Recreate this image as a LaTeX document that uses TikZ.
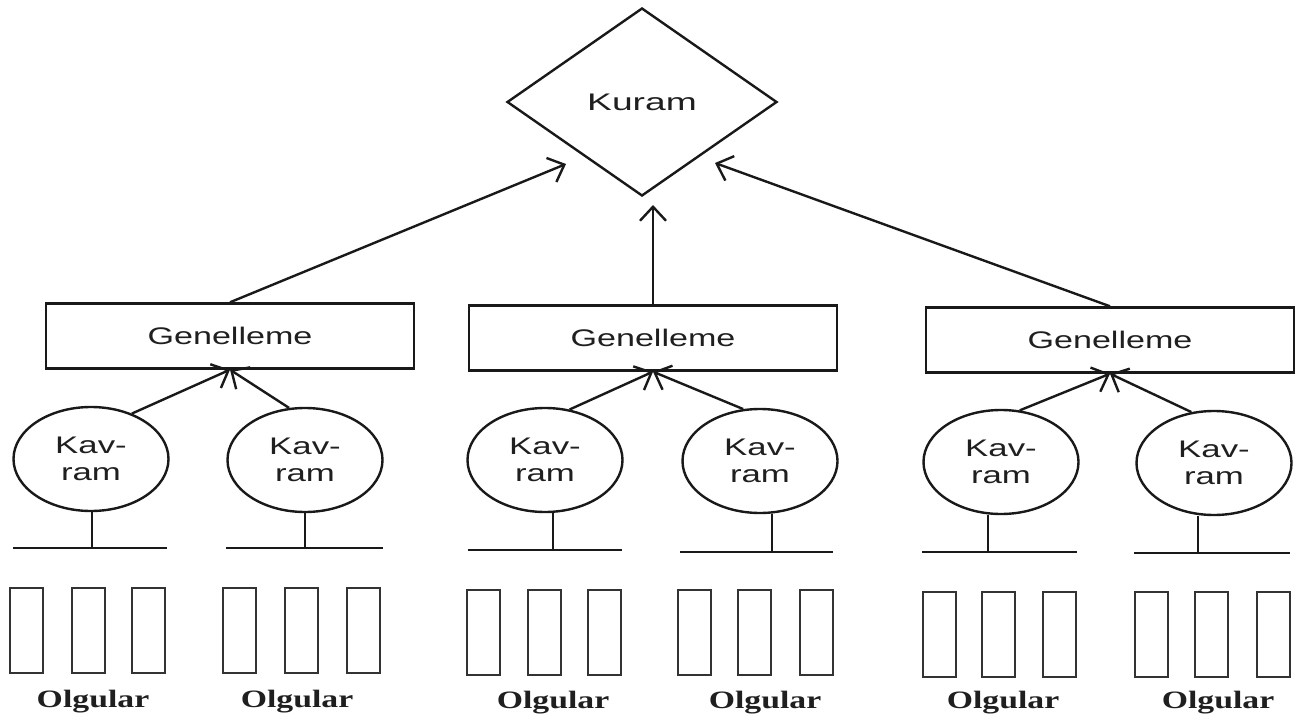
\documentclass[tikz,border=0pt]{standalone}
\usepackage{graphicx}
\usepackage{fontspec}
\setmainfont{Liberation Serif}
\setsansfont{Liberation Sans}
\usetikzlibrary{shapes.geometric,arrows.meta}
\newcommand{\stretchtxt}[2][1.45]{\scalebox{#1}[1]{#2}}
\begin{document}
\begin{tikzpicture}[x=1pt,y=-1pt,
  shp/.style={draw=black!90, line width=2.4pt, inner sep=0pt, text=black!88,
              font=\sffamily\fontsize{24}{27}\selectfont, align=center},
  genbox/.style={shp, rectangle, minimum width=368pt, minimum height=65pt},
  kav/.style={shp, ellipse, minimum width=155pt, minimum height=104pt},
  kuramd/.style={shp, diamond, minimum width=270pt, minimum height=188pt},
  conn/.style={draw=black!90, line width=2.4pt, -{Straight Barb[length=14pt,width=26pt]}},
  plain/.style={draw=black!90, line width=2.4pt},
  case/.style={draw=black!80, line width=2.3pt},
  olg/.style={text=black!88, font=\rmfamily\bfseries\fontsize{25}{25}\selectfont}
]
\fill[white] (0,0) rectangle (1314,722);
\useasboundingbox (0,0) rectangle (1314,722);

% Theory
\node[kuramd] (kuram) at (642,102) {\stretchtxt[1.55]{Kuram}};

% Generalisations
\node[genbox] (g1) at (230,336) {\stretchtxt[1.42]{Genelleme}};
\node[genbox] (g2) at (653,338) {\stretchtxt[1.42]{Genelleme}};
\node[genbox] (g3) at (1110,340) {\stretchtxt[1.42]{Genelleme}};

% arrow tips near the diamond
\coordinate (tL) at (566,164);
\coordinate (tR) at (715,163);
\coordinate (tM) at (656,205);

\draw[conn] (g1.north) -- (tL);
\draw[conn] (g2.north) -- (g2.north |- tM);
\draw[conn] (g3.north) -- (tR);

% Concepts
\node[kav] (c1) at (91,459)   {\stretchtxt{Kav-}\\\stretchtxt{ram}};
\node[kav] (c2) at (305,460)  {\stretchtxt{Kav-}\\\stretchtxt{ram}};
\node[kav] (c3) at (545,460)  {\stretchtxt{Kav-}\\\stretchtxt{ram}};
\node[kav] (c4) at (760,461)  {\stretchtxt{Kav-}\\\stretchtxt{ram}};
\node[kav] (c5) at (1001,462) {\stretchtxt{Kav-}\\\stretchtxt{ram}};
\node[kav] (c6) at (1214,463) {\stretchtxt{Kav-}\\\stretchtxt{ram}};

\draw[conn] (c1.48) -- (g1.south);
\draw[conn] (c2.107) -- (g1.south);
\draw[conn] (c3.64) -- (g2.south);
\draw[conn] (c4.108) -- (g2.south);
\draw[conn] (c5.70) -- (g3.south);
\draw[conn] (c6.114) -- (g3.south);

% bars under concepts
\foreach \c/\lx/\by/\bl/\br in {c1/92/548/13/167, c2/305/548/226/383,
  c3/553/550/468/622, c4/772/552/680/833, c5/988/552/922/1077, c6/1198/553/1134/1290}{
  \coordinate (\c-foot) at (\lx,\by);
  \draw[plain] (\bl,\by) -- (\br,\by);
  \draw[plain] (\c-foot) -- (\c-foot |- \c.south);
}

% cases (Olgular)
\foreach \top/\a/\b/\cc in {588/10/72/132, 588/223/285/347, 590/467/528/588,
  590/678/738/800, 592/923/982/1043, 592/1135/1195/1257}{
  \foreach \x in {\a,\b,\cc}{
    \draw[case] (\x,\top) rectangle ++(33,85);
  }
}

\node[olg] (o1) at (93,702)   {\stretchtxt[1.35]{Olgular}};
\node[olg] (o2) at (297,702)  {\stretchtxt[1.35]{Olgular}};
\node[olg] (o3) at (553,703)  {\stretchtxt[1.35]{Olgular}};
\node[olg] (o4) at (765,703)  {\stretchtxt[1.35]{Olgular}};
\node[olg] (o5) at (1003,703) {\stretchtxt[1.35]{Olgular}};
\node[olg] (o6) at (1218,703) {\stretchtxt[1.35]{Olgular}};
\end{tikzpicture}
\end{document}
